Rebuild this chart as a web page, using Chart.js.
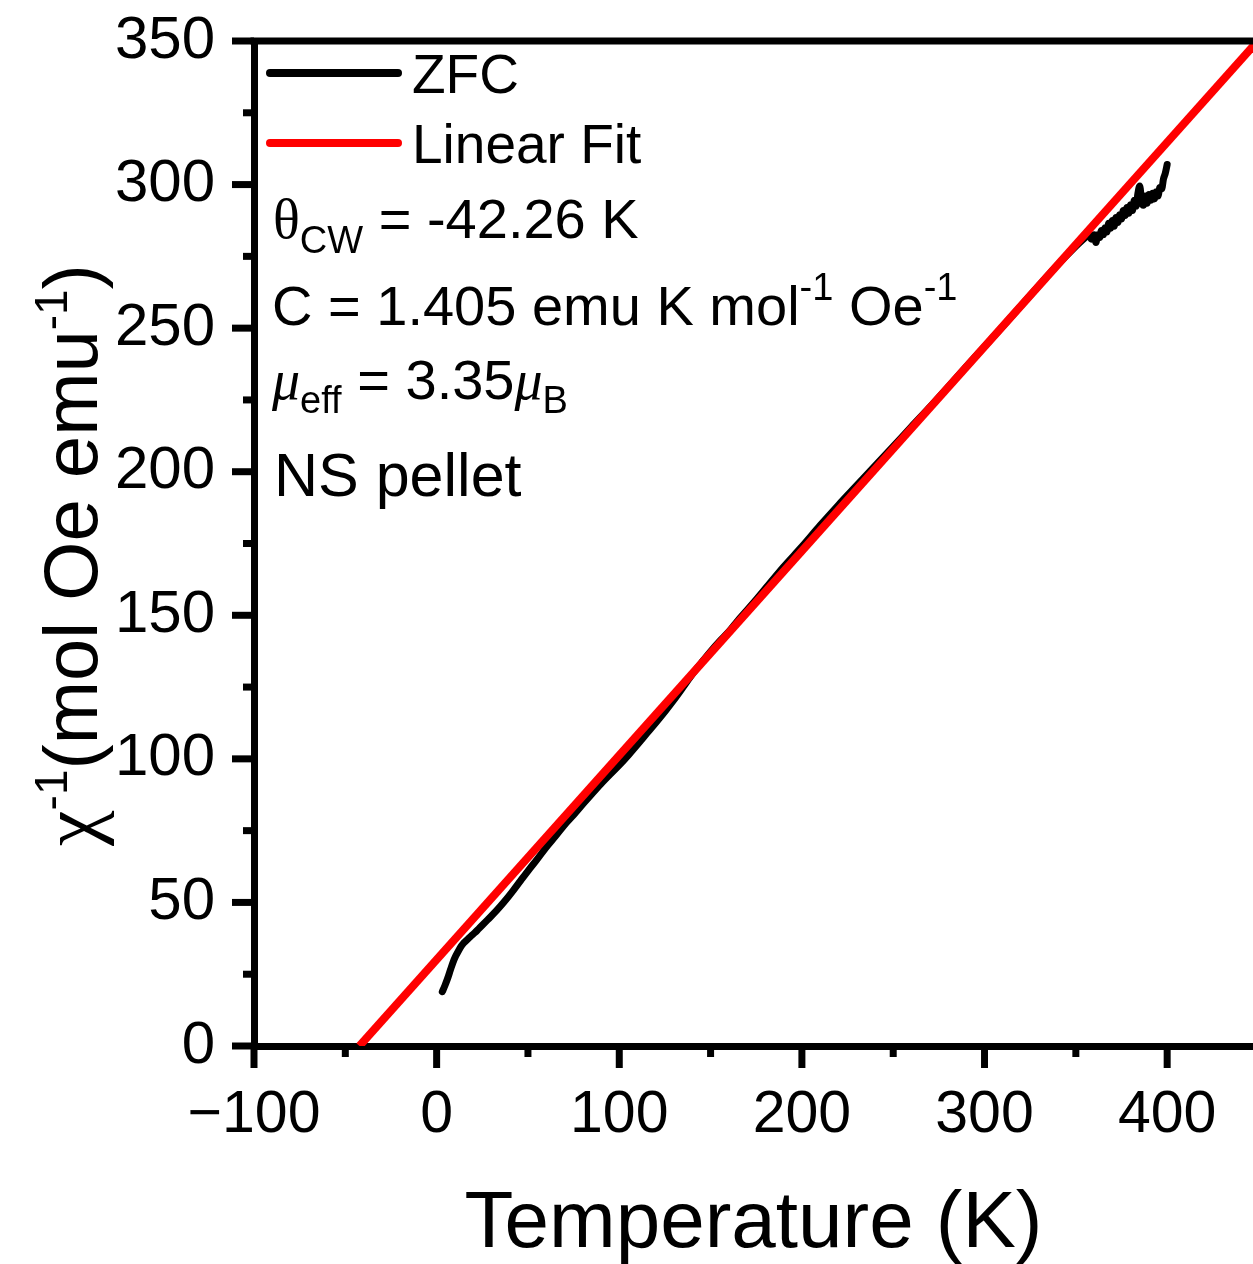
<!DOCTYPE html>
<html>
<head>
<meta charset="utf-8">
<script src="https://cdn.jsdelivr.net/npm/chart.js@4.4.0/dist/chart.umd.min.js"></script>
<style>
  html, body { margin: 0; padding: 0; background: #fff; }
  canvas { display: block; }
</style>
</head>
<body>
<canvas id="myChart" width="1253" height="1264"></canvas>
<script>
// ZFC inverse susceptibility
var zfcT = [3.1, 4.5, 6, 7.5, 9, 10.5, 12, 13.5, 15, 17, 19, 21, 23, 28, 33, 37, 42, 46, 51, 55,
  60, 65, 70, 75, 80, 85, 90, 95, 100, 105, 110, 115, 120, 125, 130, 135, 140, 145, 150, 155,
  160, 165, 170, 175, 180, 190, 200, 210, 220, 230, 240, 250, 260, 270, 280, 290, 300, 310, 320, 330,
  340, 350, 355, 357, 358.5, 360, 361, 362, 363, 364, 365, 366, 367, 368, 369, 370, 371, 372, 373, 374,
  375, 376, 377, 378, 379, 380, 381, 382, 383, 384, 385, 386, 387, 388, 389, 390, 391, 392, 393, 394,
  395, 396, 397, 398, 399, 400];
var zfcChi = [18.9, 21, 23.5, 26.4, 29.2, 31.4, 33.2, 34.8, 36, 37.2, 38.4, 39.5, 40.8, 44, 47.3, 50.2, 54.2, 57.6, 61.8, 65,
  69.2, 73, 77, 80.5, 84.2, 87.8, 91.3, 94.6, 97.8, 101.3, 105, 108.8, 112.6, 116.5, 120.6, 125, 129.5, 133.5, 137.4, 141,
  144.3, 148.2, 151.8, 155.5, 159.3, 166.9, 173.9, 181.3, 188.4, 195.2, 202, 208.8, 215.7, 222.5, 229.5, 236.6, 243.6, 250.6, 257.8, 265,
  272, 278.5, 281.5, 282.8, 281, 282.5, 279.8, 282.5, 281.5, 284, 282.5, 285, 283.5, 286.5, 284.8, 287.5, 285.5, 288.5, 286.8, 289.5,
  288, 291, 289.2, 292, 290, 293, 291, 294.5, 292.5, 297, 299.5, 294, 292.8, 296, 293.5, 296.5, 294.5, 297, 295, 297.5,
  296, 299, 298.5, 302, 304, 307];

// Curie-Weiss linear fit (end points)
var fitT = [-42.26, 460];
var fitChi = [0, 357.4];

var xMajorTicks = [-100, 0, 100, 200, 300, 400];
var yMajorTicks = [0, 50, 100, 150, 200, 250, 300, 350];

var SANS = "'Liberation Sans', Arial, sans-serif";
var SERIF = "'Liberation Serif', 'Times New Roman', serif";

function pts(xs, ys) {
  return xs.map(function (x, i) { return { x: x, y: ys[i] }; });
}

// draws a row of text pieces (for sub/superscripts), returns end x
function drawRuns(ctx, x, y, runs) {
  runs.forEach(function (r) {
    ctx.font = (r.italic ? 'italic ' : '') + r.size + 'px ' + (r.serif ? SERIF : SANS);
    ctx.fillText(r.text, x, y + (r.dy || 0));
    x += ctx.measureText(r.text).width;
  });
  return x;
}
function runsWidth(ctx, runs) {
  var w = 0;
  runs.forEach(function (r) {
    ctx.font = (r.italic ? 'italic ' : '') + r.size + 'px ' + (r.serif ? SERIF : SANS);
    w += ctx.measureText(r.text).width;
  });
  return w;
}

var extras = {
  id: 'extras',
  afterDraw: function (chart) {
    var ctx = chart.ctx, a = chart.chartArea;
    var xs = chart.scales.x, ys = chart.scales.y;
    ctx.save();
    ctx.strokeStyle = '#000';
    ctx.fillStyle = '#000';
    ctx.lineWidth = 7;
    ctx.lineCap = 'butt';

    // top frame line
    ctx.beginPath();
    ctx.moveTo(a.left - 3.5, a.top);
    ctx.lineTo(a.right, a.top);
    ctx.stroke();

    // tick marks, major and minor, outward
    xs.ticks.forEach(function (t) {
      var px = xs.getPixelForValue(t.value);
      var len = xMajorTicks.indexOf(t.value) >= 0 ? 22 : 11;
      ctx.beginPath();
      ctx.moveTo(px, a.bottom);
      ctx.lineTo(px, a.bottom + len);
      ctx.stroke();
    });
    ys.ticks.forEach(function (t) {
      var py = ys.getPixelForValue(t.value);
      var len = yMajorTicks.indexOf(t.value) >= 0 ? 22 : 11;
      ctx.beginPath();
      ctx.moveTo(a.left, py);
      ctx.lineTo(a.left - len, py);
      ctx.stroke();
    });

    // legend
    ctx.lineCap = 'round';
    ctx.lineWidth = 8;
    ctx.textBaseline = 'alphabetic';
    var legendY = [73, 143];
    chart.data.datasets.forEach(function (ds, i) {
      ctx.strokeStyle = ds.borderColor;
      ctx.beginPath();
      ctx.moveTo(270, legendY[i]);
      ctx.lineTo(398, legendY[i]);
      ctx.stroke();
      ctx.font = '55px ' + SANS;
      ctx.fillText(ds.label, 412, legendY[i] + 20);
    });

    // fit parameters
    var s = 56, sub = 38;
    drawRuns(ctx, 273, 238, [
      { text: '\u03b8', size: s, serif: true },
      { text: 'CW', size: sub, dy: 15 },
      { text: ' = -42.26 K', size: s }
    ]);
    drawRuns(ctx, 272, 325, [
      { text: 'C = 1.405 emu K mol', size: s },
      { text: '-1', size: sub, dy: -25 },
      { text: ' Oe', size: s },
      { text: '-1', size: sub, dy: -25 }
    ]);
    drawRuns(ctx, 272, 399, [
      { text: '\u03bc', size: s, serif: true, italic: true },
      { text: 'eff', size: sub, dy: 14 },
      { text: ' = 3.35', size: s },
      { text: '\u03bc', size: s, serif: true, italic: true },
      { text: 'B', size: sub, dy: 14 }
    ]);
    drawRuns(ctx, 274, 496, [{ text: 'NS pellet', size: 61 }]);

    // y axis title, rotated
    var t = 76, ts = 46;
    var yTitle = [
      { text: '\u03c7', size: t + 4, serif: true },
      { text: '-1', size: ts, dy: -30 },
      { text: '(mol Oe emu', size: t },
      { text: '-1', size: ts, dy: -30 },
      { text: ')', size: t }
    ];
    ctx.translate(97, 555);
    ctx.rotate(-Math.PI / 2);
    drawRuns(ctx, -runsWidth(ctx, yTitle) / 2, 0, yTitle);
    ctx.restore();
  }
};

var ctx = document.getElementById('myChart').getContext('2d');
var chart = new Chart(ctx, {
  type: 'scatter',
  data: {
    datasets: [{
      label: 'ZFC',
      data: pts(zfcT, zfcChi),
      showLine: true,
      borderColor: '#000000',
      backgroundColor: '#000000',
      borderWidth: 7,
      pointRadius: 0,
      cubicInterpolationMode: 'monotone',
      borderJoinStyle: 'round',
      borderCapStyle: 'round',
      order: 1
    }, {
      label: 'Linear Fit',
      data: pts(fitT, fitChi),
      showLine: true,
      borderColor: '#ff0000',
      backgroundColor: '#ff0000',
      borderWidth: 8,
      pointRadius: 0,
      order: 0
    }]
  },
  options: {
    responsive: false,
    animation: false,
    devicePixelRatio: 1,
    events: [],
    layout: { padding: { top: 41, right: 0, bottom: 0, left: 0 } },
    plugins: {
      legend: { display: false },
      tooltip: { enabled: false }
    },
    scales: {
      x: {
        type: 'linear',
        min: -100,
        max: 447,
        afterFit: function (s) { s.height = 218; },
        grid: { display: false, drawTicks: true, tickLength: 20 },
        border: { display: true, color: '#000', width: 7 },
        ticks: {
          stepSize: 50,
          includeBounds: false,
          autoSkip: false,
          maxRotation: 0,
          padding: 14,
          color: '#000',
          font: { family: SANS, size: 59 },
          callback: function (v) {
            return xMajorTicks.indexOf(v) >= 0 ? String(v).replace('-', '\u2212') : '';
          }
        },
        title: {
          display: true,
          text: 'Temperature (K)',
          color: '#000',
          font: { family: SANS, size: 80, lineHeight: 1 },
          padding: { top: 0, bottom: -1 }
        }
      },
      y: {
        type: 'linear',
        min: 0,
        max: 350,
        afterFit: function (s) { s.width = 254; },
        grid: { display: false, drawTicks: true, tickLength: 39 },
        border: { display: true, color: '#000', width: 7 },
        ticks: {
          stepSize: 25,
          autoSkip: false,
          padding: 0,
          color: '#000',
          font: { family: SANS, size: 60, lineHeight: 1 },
          callback: function (v) {
            return yMajorTicks.indexOf(v) >= 0 ? String(v) : '';
          }
        }
      }
    }
  },
  plugins: [extras]
});
</script>
</body>
</html>
